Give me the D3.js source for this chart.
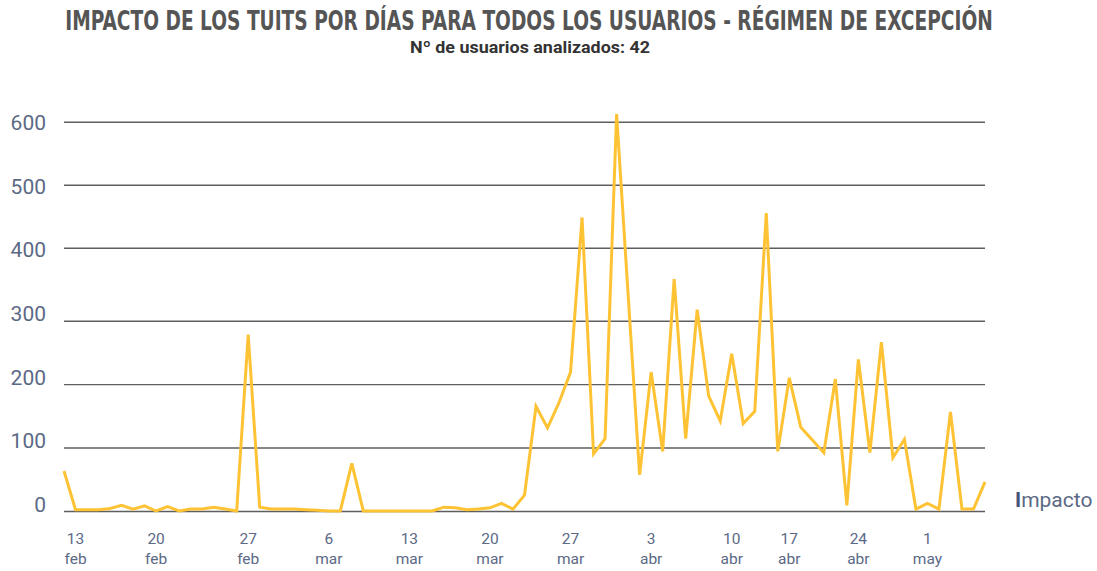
<!DOCTYPE html>
<html>
<head>
<meta charset="utf-8">
<script src="https://cdn.jsdelivr.net/npm/d3@7"></script>
<style>
  body { margin: 0; background: #fff; }
  .chart text { font-family: Roboto, "Noto Sans", sans-serif; }
</style>
</head>
<body>
<div class="chart"></div>
<script>
// daily impact values (81 days, 13 feb -> early may)
var impacto = [63, 2, 2, 2, 4, 9, 3, 8, 0, 7,
  0, 3, 3, 6, 3, 0, 278, 6, 3, 3,
  3, 2, 1, 0, 0, 75, 0, 0, 0, 0,
  0, 0, 0, 6, 5, 2, 3, 5, 12, 3,
  25, 165, 131, 171, 219, 448, 90, 114, 612, 336,
  57, 219, 94, 357, 114, 315, 181, 142, 248, 138,
  157, 455, 94, 210, 132, 112, 92, 208, 9, 239,
  92, 266, 84, 113, 3, 12, 3, 156, 3, 3,
  46];

var yTicks = [0, 100, 200, 300, 400, 500, 600];

// tick labels: index of the day in the series, day, month
var tickIndex = [1, 8, 16, 23, 30, 37, 44, 51, 58, 63, 69, 75];
var tickDay = ["13", "20", "27", "6", "13", "20", "27", "3", "10", "17", "24", "1"];
var tickMonth = ["feb", "feb", "feb", "mar", "mar", "mar", "mar", "abr", "abr", "abr", "abr", "may"];

var svgWidth = 1097;
var svgHeight = 571;
var axisColor = "#5b6985";

var svg = d3.select(".chart")
  .append("svg")
  .attr("width", svgWidth)
  .attr("height", svgHeight);

// scales
var xScale = d3.scalePoint()
  .domain(d3.range(impacto.length))
  .range([64, 985]);

// the source spaces the 300-400 band of grid lines a little wider than the others
var yScale = d3.scaleLinear()
  .domain([0, 300, 400, 600])
  .range([511, 320.7, 247.7, 121.7]);

// ...while its tick labels are evenly spaced
var yLabelScale = d3.scaleLinear()
  .domain([0, 600])
  .range([512, 130]);

// titles
var title = svg.append("text")
  .attr("text-anchor", "middle")
  .style("font-family", "'Liberation Sans Narrow', 'DejaVu Sans Condensed', sans-serif")
  .style("font-weight", "bold")
  .style("font-size", "26px")
  .style("fill", "#555")
  .text("IMPACTO DE LOS TUITS POR DÍAS PARA TODOS LOS USUARIOS - RÉGIMEN DE EXCEPCIÓN");

// squeeze the title horizontally to the reference width
var tw = title.node().getComputedTextLength();
title.attr("transform", `translate(529,30) scale(${928 / tw},1)`);

svg.append("text")
  .attr("x", 530)
  .attr("y", 53)
  .attr("text-anchor", "middle")
  .attr("textLength", 240)
  .attr("lengthAdjust", "spacingAndGlyphs")
  .style("font-weight", "bold")
  .style("font-size", "17px")
  .style("fill", "#333")
  .text("Nº de usuarios analizados: 42");

// grid lines
var yAxis = d3.axisLeft(yScale)
  .tickValues(yTicks)
  .tickSize(-(985 - 64))
  .tickFormat("");

var yG = svg.append("g")
  .attr("transform", "translate(64,0)")
  .call(yAxis);

yG.select(".domain").remove();
yG.selectAll(".tick line")
  .attr("stroke", "#5e5e5e")
  .attr("stroke-width", 1.4);

// y labels
svg.append("g")
  .selectAll("text")
  .data(yTicks)
  .enter()
  .append("text")
  .attr("x", 46)
  .attr("y", d => yLabelScale(d))
  .attr("text-anchor", "end")
  .style("font-size", "21px")
  .style("fill", axisColor)
  .text(d => d);

// x labels (two lines each)
var xG = svg.append("g");
var xTicks = xG.selectAll("g")
  .data(tickIndex)
  .enter()
  .append("g")
  .attr("transform", d => `translate(${xScale(d)},0)`);

xTicks.append("text")
  .attr("y", 544)
  .attr("text-anchor", "middle")
  .style("font-size", "15.5px")
  .style("fill", axisColor)
  .text((d, i) => tickDay[i]);

xTicks.append("text")
  .attr("y", 564)
  .attr("text-anchor", "middle")
  .style("font-size", "15.5px")
  .style("fill", axisColor)
  .text((d, i) => tickMonth[i]);

// line
var line = d3.line()
  .x((d, i) => xScale(i))
  .y(d => yScale(d));

svg.append("path")
  .attr("d", line(impacto))
  .attr("fill", "none")
  .attr("stroke", "#fdc334")
  .attr("stroke-width", 3)
  .attr("stroke-linejoin", "miter");

// legend
var legend = svg.append("text")
  .attr("x", 1015)
  .attr("y", 507)
  .style("font-size", "21px")
  .style("fill", axisColor);
legend.append("tspan")
  .style("font-weight", "bold")
  .style("fill", "#46557a")
  .text("I");
legend.append("tspan")
  .text("mpacto");
</script>
</body>
</html>
